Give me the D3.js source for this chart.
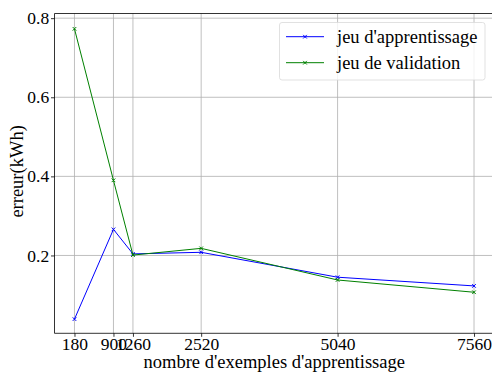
<!DOCTYPE html>
<html><head><meta charset="utf-8">
<script src="https://cdn.jsdelivr.net/npm/d3@7"></script>
<style>body{margin:0;background:#fff}svg{display:block}</style>
</head><body>
<script>
const xValues = [180, 900, 1260, 2520, 5040, 7560];
const trainErr = [0.039, 0.266, 0.204, 0.208, 0.145, 0.123];
const validErr = [0.773, 0.390, 0.201, 0.218, 0.138, 0.107];
const xTicks = [180, 900, 1260, 2520, 5040, 7560];
const yTicks = [0.2, 0.4, 0.6, 0.8];
const seriesNames = ["jeu d'apprentissage", "jeu de validation"];
const seriesColors = ["#0000ff", "#008000"];

const W = 492, H = 373;
const m = {left: 54.5, top: 13.5, right: 494, bottom: 333.3};
const font = "'Liberation Serif', 'DejaVu Serif', serif";
const fs = 18.5, tfs = 17.5;

const svg = d3.select("body").append("svg").attr("width", W).attr("height", H)
  .style("font-family", font);

const x = d3.scaleLinear().domain([-189, 7929]).range([m.left, m.right]);
const y = d3.scaleLinear().domain([0.0032, 0.8118]).range([m.bottom, m.top]);

// grid
svg.append("g").selectAll("line").data(xTicks).join("line")
  .attr("x1", d => x(d)).attr("x2", d => x(d)).attr("y1", m.top).attr("y2", m.bottom)
  .attr("stroke", "#b0b0b0").attr("stroke-width", 0.8);
svg.append("g").selectAll("line").data(yTicks).join("line")
  .attr("y1", d => y(d)).attr("y2", d => y(d)).attr("x1", m.left).attr("x2", m.right)
  .attr("stroke", "#b0b0b0").attr("stroke-width", 0.8);

// axes
const xAxis = d3.axisBottom(x).tickValues(xTicks).tickSize(3.5).tickFormat(d3.format("d"));
const gx = svg.append("g").attr("transform", `translate(0,${m.bottom})`).call(xAxis);
const yAxis = d3.axisLeft(y).tickValues(yTicks).tickSize(3.5).tickPadding(1.8).tickFormat(d3.format(".1f"));
const gy = svg.append("g").attr("transform", `translate(${m.left},0)`).call(yAxis);
[gx, gy].forEach(g => {
  g.select(".domain").remove();
  g.selectAll(".tick line").attr("stroke", "#000").attr("stroke-width", 0.8);
  g.selectAll(".tick text").attr("font-family", font).attr("font-size", tfs).attr("fill", "#000");
});
gx.selectAll(".tick text").attr("y", 16.7).attr("dy", 0);

// spines
const spine = (x1, y1, x2, y2) => svg.append("line").attr("x1", x1).attr("x2", x2).attr("y1", y1).attr("y2", y2)
  .attr("stroke", "#000").attr("stroke-width", 0.8);
spine(m.left, m.top, m.left, m.bottom);
spine(m.left, m.bottom, m.right, m.bottom);
spine(m.left, m.top, m.right, m.top);
spine(m.right, m.top, m.right, m.bottom);

// series
const line = d3.line().x((d, i) => x(xValues[i])).y(d => y(d));
const drawX = (g, cx, cy, c) => {
  const s = 1.8;
  g.append("path").attr("d", `M${cx-s},${cy-s}L${cx+s},${cy+s}M${cx-s},${cy+s}L${cx+s},${cy-s}`)
    .attr("stroke", c).attr("stroke-width", 1);
};
[trainErr, validErr].forEach((data, k) => {
  const g = svg.append("g");
  g.append("path").attr("d", line(data)).attr("fill", "none")
    .attr("stroke", seriesColors[k]).attr("stroke-width", 1);
  data.forEach((d, i) => drawX(g, x(xValues[i]), y(d), seriesColors[k]));
});

// labels
svg.append("text").attr("x", (m.left + m.right) / 2).attr("y", 367.5)
  .attr("text-anchor", "middle").attr("font-size", fs).text("nombre d'exemples d'apprentissage");
svg.append("text").attr("transform", `translate(22.5,${(m.top + m.bottom) / 2 - 2}) rotate(-90)`)
  .attr("text-anchor", "middle").attr("font-size", fs).text("erreur(kWh)");

// legend
const lg = svg.append("g");
lg.append("rect").attr("x", 279.5).attr("y", 22.5).attr("width", 205.5).attr("height", 57.5)
  .attr("rx", 2.5).attr("fill", "#fff").attr("fill-opacity", 0.8).attr("stroke", "#d9d9d9").attr("stroke-width", 0.8);
seriesNames.forEach((n, k) => {
  const yy = 36.7 + k * 26;
  lg.append("line").attr("x1", 286).attr("x2", 324).attr("y1", yy).attr("y2", yy)
    .attr("stroke", seriesColors[k]).attr("stroke-width", 1);
  drawX(lg, 305, yy, seriesColors[k]);
  lg.append("text").attr("x", 337).attr("y", yy + 6).attr("font-size", fs).text(n);
});
</script>
</body></html>
